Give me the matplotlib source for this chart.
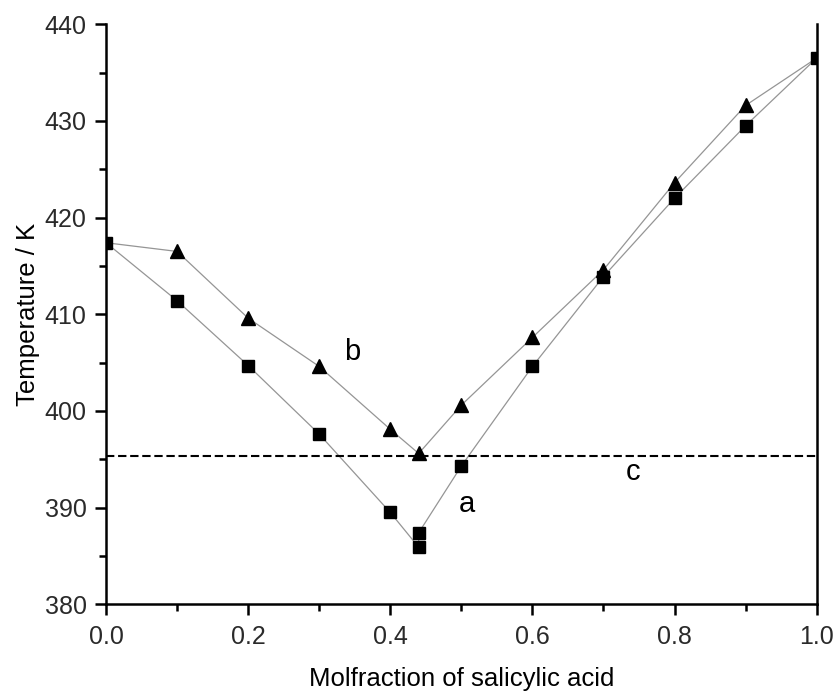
import numpy as np
import matplotlib.pyplot as plt
from matplotlib.ticker import MultipleLocator

plt.rcParams['font.family'] = ['Liberation Sans', 'DejaVu Sans']

# dados
x_a = [0.0, 0.1, 0.2, 0.3, 0.4, 0.44, 0.44, 0.5, 0.6, 0.7, 0.8, 0.9, 1.0]
t_a = [417.4, 411.4, 404.7, 397.6, 389.5, 385.9, 387.4, 394.3, 404.6, 413.9, 422.0, 429.5, 436.5]

x_b = [0.0, 0.1, 0.2, 0.3, 0.4, 0.44, 0.5, 0.6, 0.7, 0.8, 0.9, 1.0]
t_b = [417.4, 416.5, 409.6, 404.6, 398.1, 395.6, 400.6, 407.6, 414.6, 423.6, 431.6, 436.5]

t_c = 395.3

fig = plt.figure(figsize=(8.35, 6.93), dpi=100)
ax = fig.add_axes([0.127, 0.128, 0.851, 0.837])

# curvas
ax.plot(x_a, t_a, color='#959595', lw=0.9, zorder=2)
ax.plot(x_a[1:-1], t_a[1:-1], 's', color='black', ms=8, zorder=3)
ax.plot(x_b, t_b, color='#959595', lw=0.9, zorder=2)
ax.plot(x_b[1:-1], t_b[1:-1], '^', color='black', ms=10, zorder=3)
# pontos extremos (substâncias puras)
ax.plot([x_a[0], x_a[-1]], [t_a[0], t_a[-1]], 's', color='black', ms=8, zorder=3)

ax.axhline(t_c, color='black', lw=1.5, ls=(0, (4, 1.8)), zorder=2)

ax.text(0.347, 406.1, 'b', fontsize=21, ha='center', va='center')
ax.text(0.508, 390.4, 'a', fontsize=21, ha='center', va='center')
ax.text(0.742, 393.7, 'c', fontsize=21, ha='center', va='center')

ax.set_xlim(0, 1.0)
ax.set_ylim(380, 440)
ax.xaxis.set_major_locator(MultipleLocator(0.2))
ax.xaxis.set_minor_locator(MultipleLocator(0.1))
ax.yaxis.set_major_locator(MultipleLocator(10))
ax.yaxis.set_minor_locator(MultipleLocator(5))
ax.xaxis.set_major_formatter(plt.FormatStrFormatter('%.1f'))

ax.spines['top'].set_visible(False)
for s in ['left', 'bottom', 'right']:
    ax.spines[s].set_linewidth(1.8)

ax.tick_params(which='both', direction='out', width=1.8, labelsize=18, colors='black',
               top=False, right=False)
ax.tick_params(which='major', length=8)
ax.tick_params(which='minor', length=5)
ax.tick_params(axis='x', which='major', pad=7)
ax.tick_params(axis='y', which='major', pad=6)
for lbl in ax.get_xticklabels() + ax.get_yticklabels():
    lbl.set_color('#2a2a2a')

ax.set_xlabel('Molfraction of salicylic acid', fontsize=18.5, labelpad=13)
ax.set_ylabel('Temperature / K', fontsize=18.5, labelpad=3)

fig.savefig('out.png', dpi=100)
